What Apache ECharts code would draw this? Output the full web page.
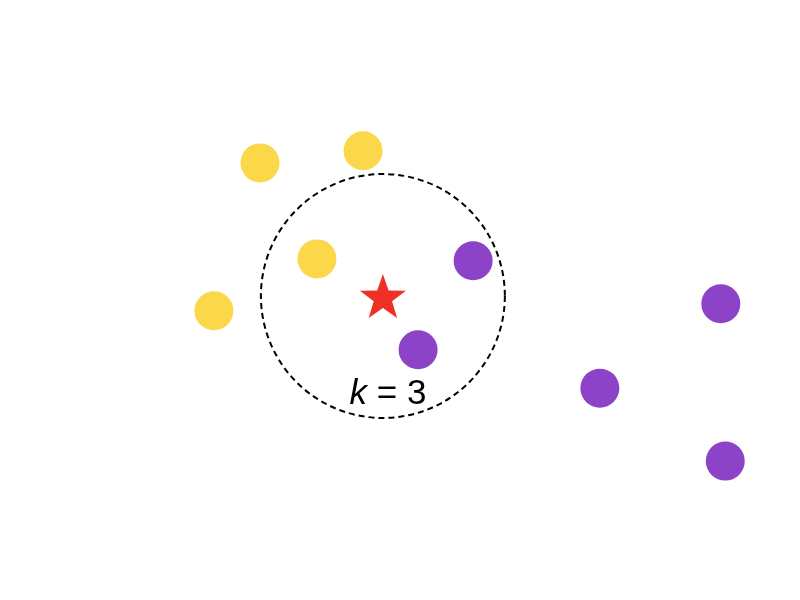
<!DOCTYPE html>
<html>
<head>
<meta charset="utf-8">
<script src="https://cdn.jsdelivr.net/npm/echarts@6/dist/echarts.min.js"></script>
<style>html,body{margin:0;padding:0;background:#fff;}#c{width:800px;height:600px;}</style>
</head>
<body>
<div id="c"></div>
<script>
// Data (x1, x2 feature units)
const classA = [[2.50, 5.58], [4.11, 5.77], [3.39, 4.08], [1.78, 3.27]];
const classB = [[5.83, 4.05], [4.97, 2.66], [7.81, 2.06], [9.70, 3.38], [9.77, 0.92]];
const query = [[4.42, 3.50]];
const kRadius = 1.906;
const kLabel = [[4.50, 1.97]];

const chart = echarts.init(document.getElementById('c'), null, {renderer: 'canvas'});
const font = 'Liberation Sans, Arial, sans-serif';
const option = {
  backgroundColor: '#ffffff',
  animation: false,
  grid: {left: 100, top: 40, width: 640, height: 480},
  xAxis: {type: 'value', min: 0, max: 10, show: false},
  yAxis: {type: 'value', min: 0, max: 7.5, show: false},
  series: [
    {name: 'Class A', type: 'scatter', data: classA, symbol: 'circle', symbolSize: 39,
     itemStyle: {color: '#FAD84A', opacity: 1}, z: 3},
    {name: 'Class B', type: 'scatter', data: classB, symbol: 'circle', symbolSize: 39,
     itemStyle: {color: '#8D43C8', opacity: 1}, z: 3},
    {name: 'Query', type: 'scatter', data: query, symbol: 'path://M0,-10 L2.351,-3.236 L9.511,-3.09 L3.804,1.236 L5.878,8.09 L0,4 L-5.878,8.09 L-3.804,1.236 L-9.511,-3.09 L-2.351,-3.236 Z',
     symbolSize: [46, 44], itemStyle: {color: '#EE3124', opacity: 1}, z: 4},
    {name: 'k', type: 'scatter', data: kLabel, symbolSize: 0, z: 5,
     itemStyle: {opacity: 1},
     label: {show: true, position: 'inside', formatter: '{i|k}{n| = 3}',
       color: '#000', fontSize: 35, fontFamily: font,
       rich: {i: {fontStyle: 'italic', fontSize: 35, color: '#000', fontFamily: font},
              n: {fontSize: 35, color: '#000', fontFamily: font}}}}
  ]
};
chart.setOption(option);

function drawCircle() {
  const c = chart.convertToPixel({gridIndex: 0}, query[0]);
  const e = chart.convertToPixel({gridIndex: 0}, [query[0][0] + kRadius, query[0][1]]);
  const r = e[0] - c[0];
  chart.setOption({graphic: [{type: 'circle', shape: {cx: c[0], cy: c[1], r: r},
    style: {fill: null, stroke: '#000', lineWidth: 2, lineDash: [6, 4]}, z: 2}]});
}
drawCircle();
</script>
</body>
</html>
